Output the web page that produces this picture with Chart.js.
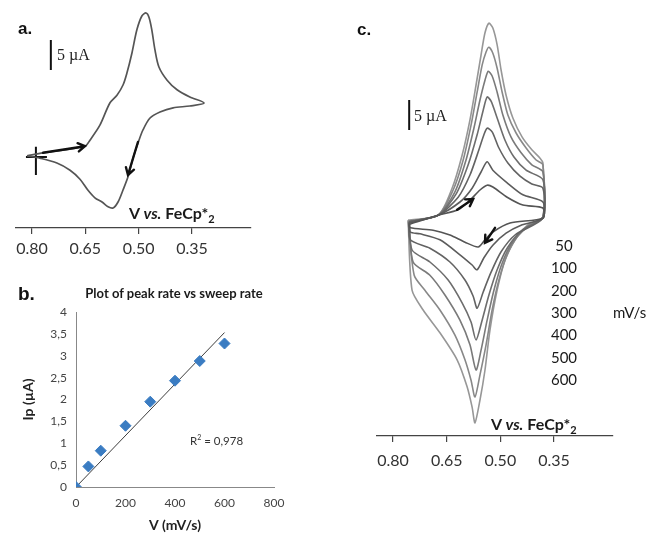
<!DOCTYPE html>
<html lang="en">
<head>
  <meta charset="UTF-8" />
  <title>CV panels</title>
  <script src="https://cdn.jsdelivr.net/npm/chart.js"></script>
  <style>
    body { margin:0; background:#fff; width:649px; height:534px; overflow:hidden; position:relative; font-family:Lato, sans-serif; }
    canvas { position:absolute; }
    .t { position:absolute; white-space:nowrap; line-height:20px; color:#222; }
    .lbl { font-weight:bold; font-family:"Liberation Sans", Arial, sans-serif; color:#111; }
    .bar { font-family:"Liberation Serif", serif; font-size:16px; }
    .vs { font-weight:bold; font-size:16px; color:#1a1a1a; }
    .rate { font-size:15px; width:40px; text-align:center; color:#1a1a1a; }
  </style>
</head>
<body>
  <canvas id="chartA" width="270" height="270" style="left:0;top:0"></canvas>
  <canvas id="chartB" width="300" height="254" style="left:0;top:280px"></canvas>
  <canvas id="chartC" width="280" height="480" style="left:360px;top:0"></canvas>

  <div class="t lbl" style="left:18px;top:19px;font-size:17px">a.</div>
  <div class="t lbl" style="left:18px;top:284px;font-size:19px">b.</div>
  <div class="t lbl" style="left:357px;top:20px;font-size:17px">c.</div>

  <div class="t bar" style="left:57px;top:45px">5 µA</div>
  <div class="t bar" style="left:414px;top:106px">5 µA</div>

  <div class="t vs" style="left:129px;top:203px">V <i>vs.</i> FeCp*<sub style="font-size:11px">2</sub></div>
  <div class="t vs" style="left:491px;top:414px">V <i>vs.</i> FeCp*<sub style="font-size:11px">2</sub></div>

  <div id="rates"></div>
  <div class="t" style="left:613px;top:302px;font-size:15px;color:#1a1a1a">mV/s</div>

  <div class="t" style="left:54px;top:283px;width:240px;text-align:center;font-weight:bold;font-size:13px;color:#1a1a1a">Plot of peak rate vs sweep rate</div>
  <div class="t" style="left:190px;top:427px;font-size:11.5px;color:#333">R<sup style="font-size:7px">2</sup> = 0,978</div>

  <script>
    // ---- shared axis ticks (potential, V)
    const potentialTicks = [0.80, 0.65, 0.50, 0.35];

    // ---- panel a: single CV, [potential V, current µA]
    const cvA = [
      [0.814, 0.2], [0.769, 0.7], [0.651, 1.8], [0.637, 2.8], [0.609, 5.3], [0.581, 9.0],
      [0.561, 10.3], [0.544, 12.0], [0.533, 14.0], [0.519, 17.3], [0.505, 21.2], [0.491, 23.5],
      [0.479, 24.0], [0.471, 23.3], [0.463, 21.2], [0.454, 17.8], [0.443, 15.0], [0.420, 12.8],
      [0.392, 11.2], [0.356, 10.0], [0.316, 9.0], [0.356, 8.5], [0.403, 8.2], [0.440, 7.5],
      [0.468, 6.5], [0.488, 4.5], [0.502, 2.3], [0.516, -0.2], [0.530, -3.3], [0.544, -5.5],
      [0.558, -7.5], [0.572, -8.5], [0.586, -8.3], [0.603, -7.5], [0.623, -6.8], [0.643, -5.5],
      [0.665, -3.7], [0.693, -2.2], [0.730, -1.0], [0.778, -0.2]
    ];
    const scaleBarA = [[0.747, 14.5], [0.747, 19.5]];
    const startCrossV = [[0.789, 1.7], [0.789, -3.0]];
    const startCrossH = [[0.817, 0], [0.758, 0]];
    const arrowsA = [[0.769, 0.7, 0.651, 1.8], [0.502, 2.5, 0.530, -3.0]];

    // ---- panel b: peak current vs sweep rate
    const sweepRates = [0, 50, 100, 200, 300, 400, 500, 600];
    const peakCurrents = [0, 0.47, 0.83, 1.40, 1.95, 2.43, 2.88, 3.28];
    const trendRates = [0, 600];
    const trendCurrents = [0, 3.53];

    // ---- panel c: CVs at several scan rates
    const scanRates = [50, 100, 200, 300, 400, 500, 600];
    const cv50 = [
      [0.755, -1.2], [0.674, 0.3], [0.618, 1.2], [0.585, 2.8], [0.557, 4.5], [0.537, 5.3],
      [0.521, 5.0], [0.481, 3.3], [0.437, 2.0], [0.381, 1.5], [0.381, -0.2], [0.473, -1.0],
      [0.521, -2.5], [0.543, -3.8], [0.562, -5.0], [0.599, -4.2], [0.641, -3.0], [0.688, -2.2],
      [0.752, -1.8]
    ];
    const cv100 = [
      [0.755, -1.0], [0.674, 0.3], [0.613, 2.5], [0.579, 4.8], [0.554, 7.5], [0.537, 9.2],
      [0.521, 7.8], [0.481, 5.7], [0.437, 3.7], [0.381, 2.5], [0.381, -0.2], [0.439, -1.3],
      [0.484, -2.7], [0.521, -4.7], [0.546, -6.8], [0.565, -8.8], [0.579, -8.0], [0.613, -6.3],
      [0.669, -3.8], [0.725, -2.8], [0.752, -2.5]
    ];
    const cv200 = [
      [0.755, -0.8], [0.674, 0.3], [0.618, 3.3], [0.585, 7.0], [0.560, 11.2], [0.546, 13.7],
      [0.537, 14.8], [0.523, 14.2], [0.504, 11.5], [0.479, 9.0], [0.445, 6.8], [0.412, 5.5],
      [0.381, 4.8], [0.381, -0.2], [0.459, -3.0], [0.498, -5.8], [0.526, -9.2], [0.548, -12.5],
      [0.565, -15.2], [0.576, -13.2], [0.599, -10.5], [0.641, -7.5], [0.697, -5.2], [0.752, -3.8]
    ];
    const cv300 = [
      [0.755, -0.8], [0.674, 0.3], [0.624, 3.8], [0.590, 8.7], [0.565, 13.7], [0.548, 17.8],
      [0.537, 20.0], [0.526, 19.3], [0.509, 16.5], [0.487, 12.8], [0.462, 10.0], [0.428, 7.8],
      [0.381, 6.2], [0.381, 0], [0.439, -2.2], [0.481, -5.2], [0.509, -8.8], [0.532, -13.0],
      [0.551, -17.2], [0.568, -20.5], [0.582, -17.5], [0.607, -14.3], [0.646, -10.5],
      [0.697, -7.5], [0.747, -5.5]
    ];
    const cv400 = [
      [0.755, -0.7], [0.674, 0.3], [0.627, 4.2], [0.596, 9.5], [0.574, 14.8], [0.557, 19.5],
      [0.543, 22.8], [0.534, 24.3], [0.523, 23.5], [0.509, 20.8], [0.493, 17.0], [0.470, 13.3],
      [0.442, 10.7], [0.412, 8.7], [0.381, 7.5], [0.381, 0], [0.425, -1.7], [0.467, -4.3],
      [0.495, -7.7], [0.518, -12.2], [0.537, -17.2], [0.554, -22.2], [0.568, -25.5],
      [0.585, -21.3], [0.613, -17.2], [0.655, -13.0], [0.697, -9.7], [0.744, -7.5]
    ];
    const cv500 = [
      [0.758, -0.7], [0.674, 0.3], [0.632, 4.5], [0.604, 9.5], [0.582, 15.3], [0.565, 20.8],
      [0.551, 25.3], [0.540, 27.5], [0.532, 28.3], [0.521, 27.3], [0.509, 24.8], [0.495, 20.8],
      [0.479, 17.0], [0.456, 14.0], [0.428, 11.5], [0.400, 9.5], [0.381, 8.7], [0.381, 0],
      [0.417, -1.2], [0.453, -3.3], [0.481, -6.3], [0.504, -10.5], [0.523, -15.5],
      [0.540, -21.3], [0.557, -26.3], [0.571, -30.0], [0.582, -27.2], [0.599, -23.8],
      [0.627, -19.7], [0.669, -15.5], [0.711, -12.2], [0.741, -9.7]
    ];
    const cv600 = [
      [0.758, -0.5], [0.674, 0.3], [0.635, 4.8], [0.607, 10.3], [0.585, 16.2], [0.568, 22.0],
      [0.554, 27.0], [0.543, 30.7], [0.532, 32.3], [0.521, 31.5], [0.509, 28.7], [0.498, 24.5],
      [0.484, 20.3], [0.465, 16.5], [0.439, 13.3], [0.412, 11.2], [0.389, 9.8], [0.381, 9.0],
      [0.381, 0], [0.423, -1.3], [0.459, -3.8], [0.487, -7.2], [0.509, -12.2], [0.529, -18.8],
      [0.543, -25.5], [0.557, -30.5], [0.571, -34.3], [0.579, -31.7], [0.593, -28.3],
      [0.621, -23.8], [0.669, -19.3], [0.716, -15.5], [0.747, -12.2]
    ];
    const cvCurves = [cv50, cv100, cv200, cv300, cv400, cv500, cv600];
    const cvColors = ['#555', '#5c5c5c', '#636363', '#6d6d6d', '#7a7a7a', '#888', '#979797'];
    const scaleBarC = [[0.755, 14.5], [0.755, 19.5]];
    const arrowsC = [[0.621, 1.2, 0.576, 3.0], [0.515, -1.8, 0.543, -4.3]];

    // close a CV loop back on its first point
    const closed = pts => pts.concat([pts[0]]);

    const arrowPlugin = list => ({
      id: 'arrows',
      afterDatasetsDraw(chart) {
        const { ctx, scales: { x, y } } = chart;
        ctx.save();
        ctx.strokeStyle = '#111';
        ctx.lineWidth = 2.4;
        ctx.lineCap = 'round';
        list.forEach(([x1, y1, x2, y2]) => {
          const ax = x.getPixelForValue(x1), ay = y.getPixelForValue(y1);
          const bx = x.getPixelForValue(x2), by = y.getPixelForValue(y2);
          const ang = Math.atan2(by - ay, bx - ax);
          ctx.beginPath();
          ctx.moveTo(ax, ay);
          ctx.lineTo(bx, by);
          ctx.moveTo(bx - 8 * Math.cos(ang - 0.55), by - 8 * Math.sin(ang - 0.55));
          ctx.lineTo(bx, by);
          ctx.lineTo(bx - 8 * Math.cos(ang + 0.55), by - 8 * Math.sin(ang + 0.55));
          ctx.stroke();
        });
        ctx.restore();
      }
    });

    function potentialAxis(min, max, height, pad) {
      return {
        type: 'linear', reverse: true, min, max,
        afterBuildTicks: s => { s.ticks = potentialTicks.map(v => ({ value: v })); },
        afterFit: s => { s.height = height; },
        grid: { drawOnChartArea: false, drawTicks: true, tickLength: 6, color: '#444', lineWidth: 1.2 },
        border: { color: '#444', width: 1.2 },
        ticks: {
          font: { family: 'Lato', size: 16 }, color: '#333', padding: pad,
          autoSkip: false, maxRotation: 0,
          callback: v => v.toFixed(2)
        }
      };
    }

    const lineSet = (data, color, width) => ({
      data, showLine: true, borderColor: color, borderWidth: width,
      pointRadius: 0, tension: 0, fill: false
    });

    const common = {
      responsive: false, animation: false, events: [],
      plugins: { legend: { display: false }, tooltip: { enabled: false } }
    };

    // panel a
    new Chart(document.getElementById('chartA'), {
      type: 'scatter',
      data: {
        datasets: [
          { ...lineSet(closed(cvA), '#555', 1.7), tension: 0.3 },
          lineSet(scaleBarA, '#111', 2),
          lineSet(startCrossV, '#111', 2),
          lineSet(startCrossH, '#111', 2)
        ]
      },
      options: {
        ...common,
        layout: { padding: { left: 16, right: 19, top: 5, bottom: 0 } },
        scales: {
          x: potentialAxis(0.184, 0.845, 42, 5),
          y: { display: false, min: -11.83, max: 25.33 }
        }
      },
      plugins: [arrowPlugin(arrowsA)]
    });

    // panel b
    new Chart(document.getElementById('chartB'), {
      type: 'scatter',
      data: {
        datasets: [
          {
            data: sweepRates.map((r, i) => ({ x: r, y: peakCurrents[i] })),
            pointStyle: 'rectRot', pointRadius: 5.5,
            backgroundColor: '#3a7cc2', borderColor: '#3a7cc2'
          },
          lineSet(trendRates.map((r, i) => ({ x: r, y: trendCurrents[i] })), '#3c3c3c', 1)
        ]
      },
      options: {
        ...common,
        layout: { padding: { left: 0, right: 26, top: 32, bottom: 0 } },
        scales: {
          x: {
            type: 'linear', min: 0, max: 800,
            afterFit: s => { s.height = 47; },
            grid: { display: false, drawTicks: false },
            border: { color: '#888' },
            ticks: { stepSize: 200, padding: 9, font: { family: 'Lato', size: 12 }, color: '#444', maxRotation: 0 },
            title: { display: true, text: 'V (mV/s)', padding: 0, font: { family: 'Lato', size: 14, weight: 'bold' }, color: '#222' }
          },
          y: {
            type: 'linear', min: 0, max: 4,
            afterFit: s => { s.width = 76; },
            grid: { display: false, drawTicks: false },
            border: { color: '#888' },
            ticks: {
              stepSize: 0.5, padding: 9, font: { family: 'Lato', size: 12 }, color: '#444',
              callback: v => String(v).replace('.', ',')
            },
            title: { display: true, text: 'Ip (µA)', padding: { top: 20 }, font: { family: 'Lato', size: 14, weight: 'bold' }, color: '#222' }
          }
        }
      }
    });

    // panel c
    new Chart(document.getElementById('chartC'), {
      type: 'scatter',
      data: {
        datasets: cvCurves.map((c, i) => ({ ...lineSet(closed(c), cvColors[i], 1.6), tension: 0.25 }))
          .concat([lineSet(scaleBarC, '#111', 2)])
      },
      options: {
        ...common,
        layout: { padding: { left: 17, right: 27, top: 10, bottom: 0 } },
        scales: {
          x: potentialAxis(0.185, 0.845, 44, 9),
          y: { display: false, min: -36.5, max: 34.5 }
        }
      },
      plugins: [arrowPlugin(arrowsC)]
    });

    // scan-rate labels next to panel c
    const rateCentersY = [245, 267, 290, 312, 334, 357, 379];
    document.getElementById('rates').innerHTML = scanRates.map((r, i) =>
      `<div class="t rate" style="left:544px;top:${rateCentersY[i] - 10}px">${r}</div>`).join('');
  </script>
</body>
</html>
